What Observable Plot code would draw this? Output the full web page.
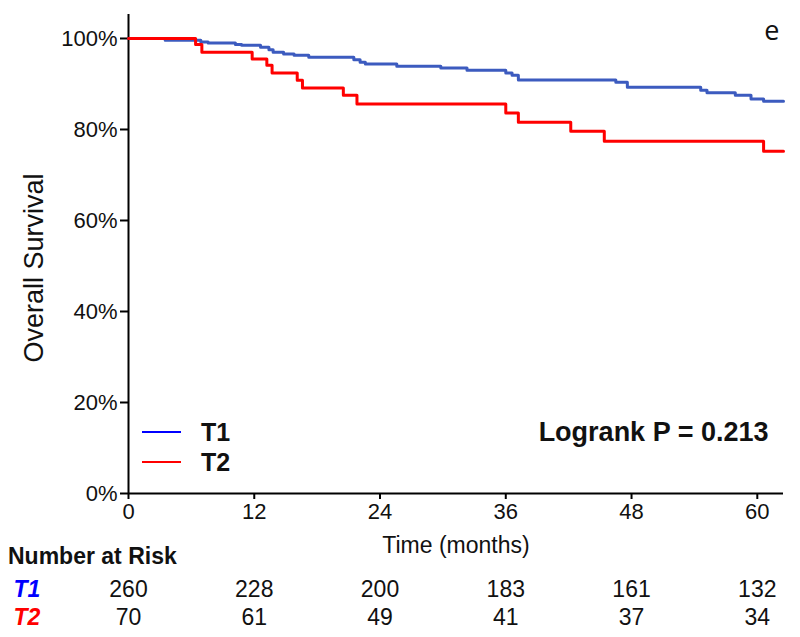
<!DOCTYPE html>
<html>
<head>
<meta charset="utf-8">
<script src="https://cdn.jsdelivr.net/npm/d3@7"></script>
<script src="https://cdn.jsdelivr.net/npm/@observablehq/plot@0.6"></script>
<style>
  html, body { margin: 0; padding: 0; background: #fff; }
  #wrap { position: relative; width: 800px; height: 637px; overflow: hidden; font-family: "Liberation Sans", Arial, sans-serif; color: #111; }
  #wrap svg { display: block; }
  .abs { position: absolute; white-space: nowrap; }
</style>
</head>
<body>
<div id="wrap"></div>
<script>
// ---------- data ----------
const groups = ["T1", "T2"];
const curveColors = ["#3c5bbf", "#ff0000"];
const labelColors = ["#0000ff", "#ff0000"];

const t1Time = [0, 3.5, 6.9, 7.6, 10.2, 10.8, 12.6, 13.4, 13.8, 14.8, 15.8, 17.2, 21.5, 22.1, 22.6, 25.6, 29.8, 32.3, 36.0, 36.6, 37.2, 46.5, 47.6, 54.6, 55.2, 57.9, 59.4, 60.6, 62.5];
const t1Surv = [100, 99.6, 99.2, 99.0, 98.7, 98.5, 98.1, 97.5, 97.0, 96.6, 96.3, 95.9, 95.3, 94.8, 94.4, 93.9, 93.5, 93.0, 92.4, 91.9, 90.9, 90.4, 89.3, 88.6, 88.1, 87.5, 86.7, 86.2, 86.2];

const t2Time = [0, 6.4, 7.0, 11.8, 13.2, 13.7, 16.1, 16.6, 20.5, 21.8, 36.0, 37.2, 42.2, 45.4, 60.6, 62.5];
const t2Surv = [100, 98.7, 97.0, 95.5, 94.1, 92.4, 90.8, 89.1, 87.5, 85.6, 83.6, 81.6, 79.6, 77.4, 75.2, 75.2];

const riskMonths = [0, 12, 24, 36, 48, 60];
const riskT1 = [260, 228, 200, 183, 161, 132];
const riskT2 = [70, 61, 49, 41, 37, 34];

const yTicks = [0, 20, 40, 60, 80, 100];
const xTicks = [0, 12, 24, 36, 48, 60];
const xLabel = "Time (months)";
const yLabel = "Overall Survival";
const panelLabel = "e";
const pLabel = "Logrank P = 0.213";
const riskTitle = "Number at Risk";

// ---------- tables ----------
const curves = [
  ...t1Time.map((t, i) => ({ g: "T1", t, s: t1Surv[i] })),
  ...t2Time.map((t, i) => ({ g: "T2", t, s: t2Surv[i] }))
];
const risk = [
  ...riskMonths.map((m, i) => ({ g: "T1", m, n: riskT1[i] })),
  ...riskMonths.map((m, i) => ({ g: "T2", m, n: riskT2[i] }))
];

const font = "'Liberation Sans', Arial, sans-serif";
const xDomain = [0, 62.5];

const wrap = document.getElementById("wrap");

const main = Plot.plot({
  width: 800,
  height: 560,
  marginLeft: 128,
  marginRight: 17,
  marginTop: 14,
  marginBottom: 67,
  x: { domain: xDomain },
  y: { domain: [0, 105.27] },
  color: { domain: groups, range: curveColors },
  style: { fontFamily: font, fontSize: "22px", color: "#111", background: "#fff", overflow: "visible" },
  marks: [
    Plot.axisY({ ticks: yTicks, tickSize: 8, tickPadding: 3, tickFormat: d => d + "%", strokeWidth: 2, stroke: "#000", fontSize: 22, label: null }),
    Plot.axisX({ ticks: xTicks, tickSize: 6, tickPadding: 4, strokeWidth: 2, stroke: "#000", fontSize: 22, label: null }),
    Plot.ruleY([0], { stroke: "#000", strokeWidth: 2 }),
    Plot.ruleX([0], { stroke: "#000", strokeWidth: 2 }),
    Plot.line(curves, { x: "t", y: "s", z: "g", stroke: "g", curve: "step-after", strokeWidth: 3 }),
    Plot.text([xLabel], { text: d => d, frameAnchor: "bottom", lineAnchor: "middle", textAnchor: "middle", dy: 52, fontSize: 23, fill: "#111" }),
    Plot.text([yLabel], { text: d => d, frameAnchor: "left", lineAnchor: "middle", textAnchor: "middle", rotate: -90, dx: -94, dy: 14, fontSize: 27, fill: "#111" }),
    Plot.text([panelLabel], { text: d => d, frameAnchor: "top-right", lineAnchor: "middle", textAnchor: "end", dx: -4, dy: 17, fontSize: 27, fontFamily: "'Open Sans', 'Noto Sans', sans-serif", fill: "#111" }),
    Plot.text([pLabel], { text: d => d, frameAnchor: "bottom-right", lineAnchor: "middle", textAnchor: "end", dx: -15, dy: -61, fontSize: 27, fontWeight: "bold", fill: "#111" })
  ]
});
wrap.appendChild(main);

const table = Plot.plot({
  width: 800,
  height: 77,
  marginLeft: 128,
  marginRight: 17,
  marginTop: 15,
  marginBottom: 6,
  x: { domain: xDomain, axis: null },
  y: { domain: groups, axis: null, padding: 0.5 },
  color: { domain: groups, range: labelColors },
  style: { fontFamily: font, fontSize: "23px", color: "#111", background: "#fff", overflow: "visible" },
  marks: [
    Plot.text(risk, { x: "m", y: "g", text: "n", fontSize: 23, fill: "#111" }),
    Plot.text(groups, { y: d => d, text: d => d, fill: d => d, frameAnchor: "left", lineAnchor: "middle", textAnchor: "start", dx: -115, fontSize: 23, fontWeight: "bold", fontStyle: "italic" })
  ]
});
wrap.appendChild(table);

// risk table title
const title = document.createElement("div");
title.className = "abs";
title.textContent = riskTitle;
Object.assign(title.style, { left: "8px", top: "543px", lineHeight: "28px", font: "bold 23px " + font, color: "#111" });
wrap.appendChild(title);

// legend
groups.forEach((g, i) => {
  const top = 418 + i * 30;
  const line = document.createElement("div");
  line.className = "abs";
  Object.assign(line.style, { left: "142px", top: (top + 13) + "px", width: "39px", height: "2px", background: labelColors[i] });
  wrap.appendChild(line);
  const lab = document.createElement("div");
  lab.className = "abs";
  lab.textContent = g;
  Object.assign(lab.style, { left: "201px", top: top + "px", lineHeight: "28px", font: "bold 25px " + font, color: "#111" });
  wrap.appendChild(lab);
});
</script>
</body>
</html>
